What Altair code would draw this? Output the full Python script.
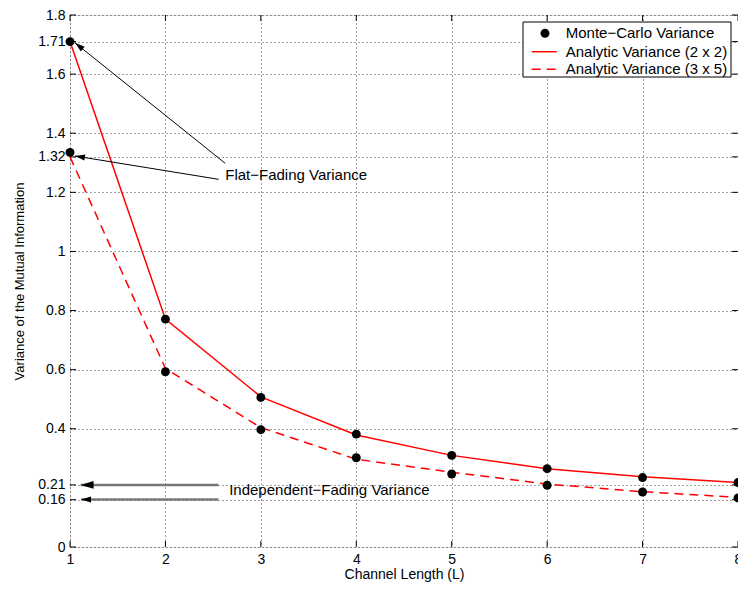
import math
import altair as alt
import pandas as pd

# ---------------- data ----------------
L = [1, 2, 3, 4, 5, 6, 7, 8]
mc_2x2 = [1.71, 0.771, 0.506, 0.382, 0.310, 0.265, 0.235, 0.218]
an_2x2 = [1.71, 0.771, 0.508, 0.379, 0.310, 0.265, 0.238, 0.218]
mc_3x5 = [1.335, 0.593, 0.397, 0.302, 0.247, 0.209, 0.186, 0.166]
an_3x5 = [1.32, 0.604, 0.404, 0.297, 0.253, 0.213, 0.187, 0.168]

x_ticks = [1, 2, 3, 4, 5, 6, 7, 8]
y_ticks = [0, 0.16, 0.21, 0.4, 0.6, 0.8, 1, 1.2, 1.32, 1.4, 1.6, 1.71, 1.8]

legend_labels = ["Monte\u2212Carlo Variance", "Analytic Variance (2 x 2)", "Analytic Variance (3 x 5)"]

ann_text = ["Flat\u2212Fading Variance", "Independent\u2212Fading Variance"]
ann_x = [2.627, 2.668]
ann_y = [1.258, 0.193]

arr_x_start = [2.627, 2.558, 2.555, 2.555]
arr_y_start = [1.298, 1.244, 0.210, 0.161]
arr_x_tip = [1.052, 1.052, 1.111, 1.115]
arr_y_tip = [1.706, 1.323, 0.210, 0.161]
arr_color = ["black", "black", "#777777", "#777777"]
arr_width = [1, 1, 2.5, 2.5]
arr_head = [10, 10, 13, 10]

# ---------------- layout ----------------
W, H = 668, 532
X_DOM = [1, 8]
Y_DOM = [0, 1.8]
FONT = "Liberation Sans"

xs = alt.Scale(domain=X_DOM, nice=False, zero=False)
ys = alt.Scale(domain=Y_DOM, nice=False, zero=False)

x_axis = alt.Axis(values=x_ticks, title="Channel Length (L)", grid=True, gridDash=[1, 3],
                  gridColor="black", gridOpacity=0.75, ticks=False, domain=False,
                  labelFontSize=14, labelPadding=5, labelFlush=False, labelColor="black",
                  titleFontSize=14, titlePadding=1, titleColor="black", titleFontWeight="normal",
                  labelFont=FONT, titleFont=FONT)
y_axis = alt.Axis(values=y_ticks, title="Variance of the Mutual Information", grid=True,
                  gridDash=[1, 3], gridColor="black", gridOpacity=0.75, ticks=False, domain=False,
                  labelFontSize=14, labelPadding=5, labelFlush=False, labelOverlap=False,
                  labelExpr="format(datum.value, '~g')", labelColor="black",
                  titleFontSize=13, titlePadding=11, titleColor="black", titleFontWeight="normal",
                  labelFont=FONT, titleFont=FONT)


def X(f):
    return alt.X(f, type="quantitative", scale=xs, axis=x_axis)


def Y(f):
    return alt.Y(f, type="quantitative", scale=ys, axis=y_axis)


# frames
df_a2 = pd.DataFrame({"L": L, "v": an_2x2})
df_a3 = pd.DataFrame({"L": L, "v": an_3x5})
df_mc = pd.DataFrame({"L": L + L, "v": mc_2x2 + mc_3x5})
df_xt = pd.DataFrame({"t": x_ticks})
df_yt = pd.DataFrame({"t": y_ticks})

pxx = W / (X_DOM[1] - X_DOM[0])
pxy = H / (Y_DOM[1] - Y_DOM[0])
angles = []
for xs0, ys0, xt, yt in zip(arr_x_start, arr_y_start, arr_x_tip, arr_y_tip):
    dx = (xt - xs0) * pxx
    dy = -(yt - ys0) * pxy
    angles.append(math.degrees(math.atan2(dx, -dy)) % 360)

df_arr = pd.DataFrame({
    "xs": arr_x_start, "ys": arr_y_start, "xt": arr_x_tip, "yt": arr_y_tip,
    "c": arr_color, "w": arr_width, "ang": angles,
    "sz": [(2 * h) ** 2 for h in arr_head],
})
df_ann = pd.DataFrame({"x": ann_x, "y": ann_y, "t": ann_text})
one = pd.DataFrame({"k": [0]})

# ticks inside the frame
tick_len = 6
t_bottom = alt.Chart(df_xt).mark_rule(color="black", strokeWidth=1).encode(
    x=X("t"), y=alt.value(H), y2=alt.value(H - tick_len))
t_top = alt.Chart(df_xt).mark_rule(color="black", strokeWidth=1).encode(
    x=X("t"), y=alt.value(0), y2=alt.value(tick_len))
t_left = alt.Chart(df_yt).mark_rule(color="black", strokeWidth=1).encode(
    y=Y("t"), x=alt.value(0), x2=alt.value(tick_len))
t_right = alt.Chart(df_yt).mark_rule(color="black", strokeWidth=1).encode(
    y=Y("t"), x=alt.value(W), x2=alt.value(W - tick_len))

line2 = alt.Chart(df_a2).mark_line(color="#ff0000", strokeWidth=1.5).encode(x=X("L"), y=Y("v"))
line3 = alt.Chart(df_a3).mark_line(color="#ff0000", strokeWidth=1.5, strokeDash=[9, 6]).encode(
    x=X("L"), y=Y("v"))
dots = alt.Chart(df_mc).mark_point(filled=True, color="black", size=80, opacity=1).encode(
    x=X("L"), y=Y("v"))

arrows = alt.Chart(df_arr).mark_rule().encode(
    x=X("xs"), y=Y("ys"), x2=alt.X2("xt"), y2=alt.Y2("yt"),
    color=alt.Color("c:N", scale=None), strokeWidth=alt.StrokeWidth("w:Q", scale=None))
heads = alt.Chart(df_arr).mark_point(shape="M0,0L-0.3,1L0.3,1Z", filled=True, color="black",
                                     opacity=1, strokeWidth=0).encode(
    x=X("xt"), y=Y("yt"), angle=alt.Angle("ang:Q", scale=None), size=alt.Size("sz:Q", scale=None))
ann = alt.Chart(df_ann).mark_text(align="left", baseline="middle", fontSize=15, font=FONT,
                                   color="black").encode(x=X("x"), y=Y("y"), text="t:N")

# legend (drawn box)
lg_x0, lg_x1, lg_y0, lg_y1 = 453, 661, 7, 62
row_y = [18.3, 36.7, 54.3]
lg_box = alt.Chart(one).mark_rect(fill="white", stroke="black", strokeWidth=1).encode(
    x=alt.value(lg_x0), x2=alt.value(lg_x1), y=alt.value(lg_y0), y2=alt.value(lg_y1))
lg_dot = alt.Chart(one).mark_point(filled=True, color="black", size=80, opacity=1).encode(
    x=alt.value(475), y=alt.value(row_y[0]))
lg_l1 = alt.Chart(one).mark_rule(color="#ff0000", strokeWidth=1.5).encode(
    x=alt.value(461.7), x2=alt.value(486.7), y=alt.value(row_y[1]))
lg_l2 = alt.Chart(one).mark_rule(color="#ff0000", strokeWidth=1.5, strokeDash=[9, 6]).encode(
    x=alt.value(461.7), x2=alt.value(486.7), y=alt.value(row_y[2]))
lg_txt = [
    alt.Chart(one).mark_text(align="left", baseline="middle", fontSize=15, font=FONT,
                             color="black").encode(
        x=alt.value(495.7), y=alt.value(row_y[i]), text=alt.value(legend_labels[i]))
    for i in range(3)
]

chart = alt.layer(
    t_bottom, t_top, t_left, t_right, line2, line3, dots, arrows, heads, ann,
    lg_box, lg_dot, lg_l1, lg_l2, *lg_txt
).properties(
    width=W, height=H,
    autosize=alt.AutoSizeParams(type="none"),
    padding={"left": 62, "top": 7, "right": 0, "bottom": 37},
).configure_view(stroke="black", strokeWidth=1.3).configure(font=FONT)

chart.save("out.html", embed_options={"renderer": "svg", "actions": False})
